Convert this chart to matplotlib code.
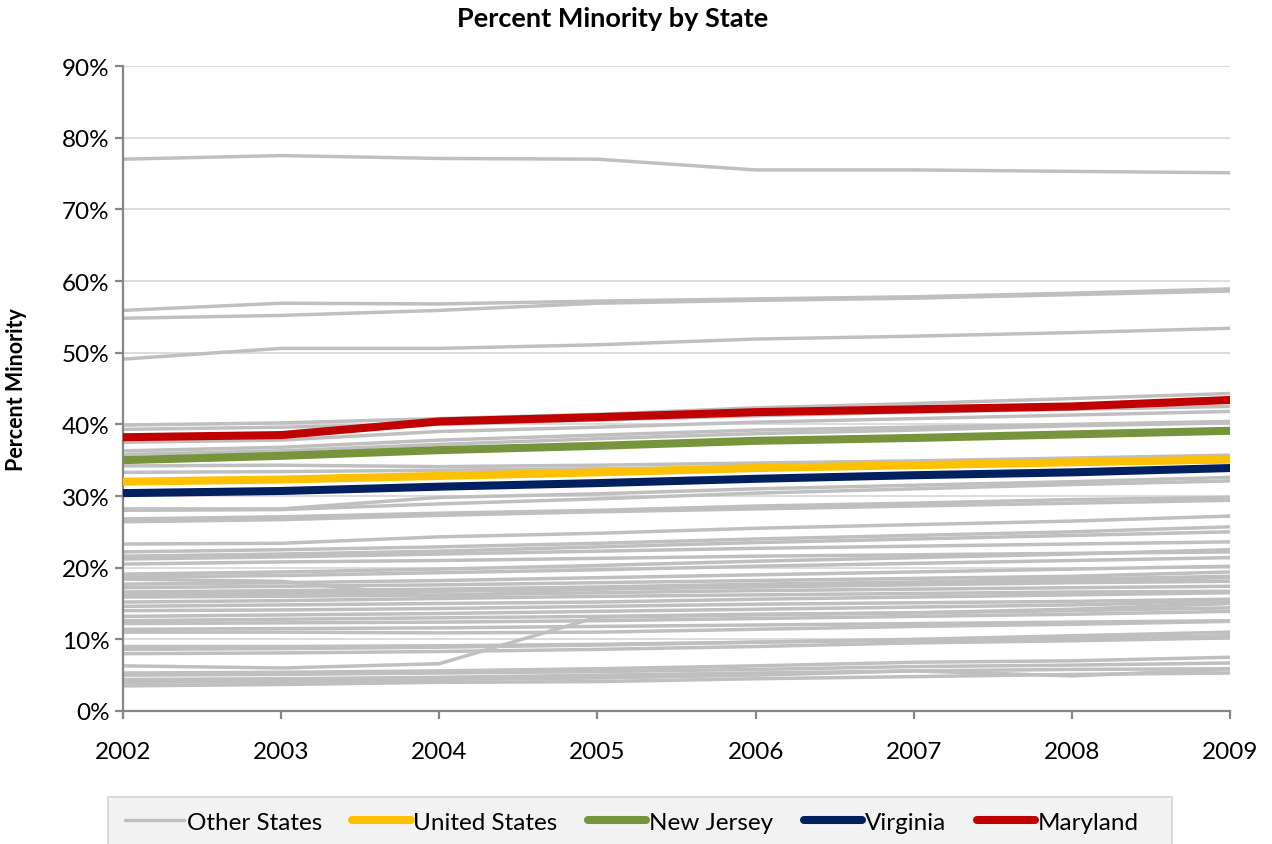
import matplotlib.pyplot as plt
from matplotlib.patches import Rectangle
from matplotlib.lines import Line2D
from matplotlib.ticker import FuncFormatter

plt.rcParams["font.family"] = ["Lato", "DejaVu Sans"]

years = [2002, 2003, 2004, 2005, 2006, 2007, 2008, 2009]

# percent minority, highlighted states and the national figure
united_states = [32.0, 32.3, 32.8, 33.3, 33.9, 34.3, 34.7, 35.1]
new_jersey = [35.0, 35.6, 36.4, 37.0, 37.7, 38.1, 38.6, 39.1]
virginia = [30.4, 30.7, 31.3, 31.8, 32.4, 32.9, 33.3, 33.9]
maryland = [38.2, 38.5, 40.4, 41.0, 41.7, 42.1, 42.5, 43.4]

# every other state (and DC), drawn in grey behind the highlighted ones
other_states = [
    [77.0, 77.5, 77.1, 77.0, 75.5, 75.5, 75.3, 75.1],
    [55.9, 56.9, 56.8, 57.2, 57.5, 57.8, 58.3, 58.9],
    [54.8, 55.2, 55.9, 56.9, 57.3, 57.6, 58.1, 58.6],
    [49.1, 50.6, 50.6, 51.1, 51.9, 52.3, 52.8, 53.4],
    [39.9, 40.2, 40.8, 41.4, 42.3, 42.9, 43.6, 44.3],
    [39.3, 39.6, 40.0, 40.6, 41.2, 41.7, 42.1, 42.5],
    [37.5, 37.8, 39.0, 39.6, 40.3, 40.8, 41.3, 41.8],
    [36.3, 36.8, 37.8, 38.5, 39.2, 39.6, 40.0, 40.4],
    [35.8, 36.3, 37.2, 38.0, 38.7, 39.2, 39.8, 40.2],
    [34.2, 34.3, 34.1, 34.3, 34.6, 34.9, 35.3, 35.7],
    [33.3, 33.4, 33.6, 33.8, 34.0, 34.2, 34.5, 34.8],
    [28.2, 28.2, 29.8, 30.3, 31.0, 31.5, 32.0, 32.6],
    [28.0, 28.1, 28.9, 29.6, 30.4, 31.0, 31.6, 32.1],
    [26.8, 27.1, 27.6, 28.0, 28.6, 29.0, 29.5, 29.8],
    [26.4, 26.7, 27.3, 27.8, 28.2, 28.6, 29.0, 29.4],
    [23.3, 23.4, 24.3, 24.8, 25.5, 26.0, 26.5, 27.2],
    [22.2, 22.5, 22.9, 23.4, 24.0, 24.5, 25.0, 25.7],
    [21.6, 21.9, 22.3, 22.9, 23.5, 24.0, 24.5, 25.0],
    [21.2, 21.5, 21.9, 22.3, 22.7, 23.0, 23.3, 23.6],
    [20.5, 20.8, 21.0, 21.3, 21.6, 21.8, 22.0, 22.2],
    [19.1, 19.4, 19.8, 20.3, 20.9, 21.4, 21.9, 22.5],
    [18.7, 18.9, 19.3, 19.7, 20.2, 20.6, 21.0, 21.4],
    [18.4, 18.1, 15.9, 17.1, 17.5, 17.9, 18.2, 18.6],
    [17.7, 17.9, 18.2, 18.6, 19.0, 19.4, 19.8, 20.2],
    [17.2, 17.4, 17.6, 17.9, 18.2, 18.5, 18.8, 19.4],
    [16.6, 16.8, 17.0, 17.3, 17.7, 18.0, 18.4, 18.8],
    [16.2, 16.4, 16.7, 17.0, 17.3, 17.6, 17.9, 18.1],
    [15.9, 16.0, 16.2, 16.5, 16.8, 17.0, 17.2, 17.4],
    [15.2, 15.4, 15.7, 16.0, 16.2, 16.4, 16.6, 16.7],
    [14.6, 14.8, 15.0, 15.2, 15.6, 15.9, 16.2, 16.5],
    [14.0, 14.1, 14.3, 14.6, 14.9, 15.1, 15.3, 15.6],
    [13.2, 13.4, 13.6, 13.9, 14.2, 14.5, 14.8, 15.3],
    [12.6, 12.8, 13.0, 13.2, 13.5, 13.7, 14.0, 14.4],
    [12.2, 12.3, 12.4, 12.6, 12.9, 13.2, 13.5, 13.9],
    [11.4, 11.5, 11.6, 11.8, 12.0, 12.2, 12.4, 12.6],
    [11.0, 11.0, 10.9, 11.0, 11.4, 11.8, 12.1, 12.5],
    [9.0, 9.0, 9.1, 9.3, 9.6, 9.9, 10.2, 10.5],
    [8.6, 8.7, 8.9, 9.2, 9.6, 10.0, 10.5, 11.0],
    [8.0, 8.1, 8.3, 8.6, 9.0, 9.5, 9.8, 10.2],
    [6.3, 6.0, 6.6, 13.1, 13.4, 13.7, 14.2, 15.0],
    [5.3, 5.4, 5.6, 5.9, 6.3, 6.8, 7.0, 7.5],
    [5.0, 5.1, 5.3, 5.5, 5.8, 6.2, 6.4, 6.7],
    [4.4, 4.5, 4.7, 5.0, 5.3, 5.6, 5.8, 5.9],
    [4.0, 4.1, 4.4, 4.6, 5.0, 5.6, 4.9, 5.8],
    [3.5, 3.7, 4.0, 4.1, 4.5, 4.8, 5.1, 5.3],
]

GREY = "#BFBFBF"
highlights = [
    ("United States", united_states, "#FFC000"),
    ("New Jersey", new_jersey, "#77933C"),
    ("Virginia", virginia, "#002060"),
    ("Maryland", maryland, "#C00000"),
]

fig = plt.figure(figsize=(12.72, 8.45), dpi=100)
ax = fig.add_axes([0.0967, 0.1574, 0.8703, 0.7633])

for series in other_states:
    ax.plot(years, series, color=GREY, lw=2.5, solid_capstyle="round", zorder=2)
for name, series, color in highlights:
    ax.plot(years, series, color=color, lw=5.8, solid_capstyle="round", zorder=3)

ax.set_xlim(2002, 2009)
ax.set_ylim(0, 90)
ax.set_xticks(years)
ax.set_yticks(range(0, 91, 10))
ax.yaxis.set_major_formatter(FuncFormatter(lambda v, _: f"{v:.0f}%"))
ax.grid(axis="y", color="#D9D9D9", lw=1.3, zorder=0)
ax.set_axisbelow(True)

for side in ("top", "right"):
    ax.spines[side].set_visible(False)
for side in ("left", "bottom"):
    ax.spines[side].set_color("#868686")
    ax.spines[side].set_linewidth(1.6)
ax.tick_params(axis="both", direction="out", length=5.5, width=1.6,
               color="#868686", labelsize=17.5, labelcolor="black")
ax.tick_params(axis="x", pad=16)
ax.tick_params(axis="y", pad=4)

ax.set_ylabel("Percent Minority", fontsize=15.5, fontweight="bold")
ax.yaxis.set_label_coords(-0.087, 0.5)
fig.text(0.482, 0.978, "Percent Minority by State", ha="center", va="center",
         fontsize=19.5, fontweight="bold")

# legend strip along the bottom edge
fig.patches.append(Rectangle((108 / 1272, -0.01), (1172 - 108) / 1272, 0.0656,
                             transform=fig.transFigure, facecolor="#F2F2F2",
                             edgecolor="#D9D9D9", lw=1.5, zorder=0))
handles = [Line2D([], [], color=GREY, lw=2.5, solid_capstyle="round")]
handles += [Line2D([], [], color=c, lw=5.8, solid_capstyle="round") for _, _, c in highlights]
labels = ["Other States"] + [name for name, _, _ in highlights]
fig.legend(handles, labels, loc="center", bbox_to_anchor=(0.497, 0.026), ncol=5,
           frameon=False, fontsize=17.5, handlelength=2.4, handletextpad=0.12,
           columnspacing=1.25)

fig.savefig("out.png", dpi=100)
